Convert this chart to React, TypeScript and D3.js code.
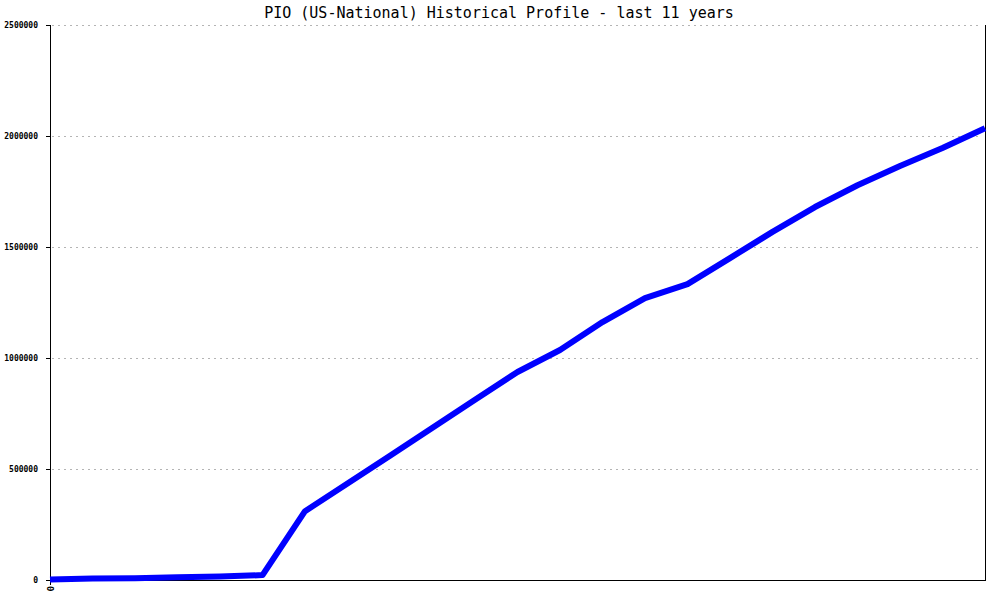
import React from "react";
import * as d3 from "d3";

const title = "PIO (US-National) Historical Profile - last 11 years";
const periods: number[] = d3.range(23);
const counts: number[] = [
  2000, 7000, 8000, 12000, 16000, 22000, 310000, 435000, 560000, 686000,
  812000, 937000, 1036000, 1162000, 1270000, 1333000, 1450000, 1568000,
  1680000, 1778000, 1865000, 1946000, 2035000,
];
const yTicks: number[] = [0, 500000, 1000000, 1500000, 2000000, 2500000];
const xTickLabels: string[] = ["0"];

const W = 1000;
const H = 600;
const left = 50;
const right = 985;
const top = 25;
const bottom = 580;

export default function App() {
  const x = d3.scaleLinear().domain([0, periods.length - 1]).range([left, right]);
  const y = d3.scaleLinear().domain([0, 2500000]).range([bottom, top]);
  const line = d3
    .line<number>()
    .x((_, i) => x(periods[i]))
    .y((d) => y(d));
  const mono = "'DejaVu Sans Mono', 'Liberation Mono', monospace";
  return (
    <svg
      width={W}
      height={H}
      style={{ position: "absolute", left: 0, top: 0, background: "#fff" }}
    >
      <rect x={0} y={0} width={W} height={H} fill="#fff" />
      <text
        x={499}
        y={18}
        textAnchor="middle"
        fontFamily={mono}
        fontSize={15}
        fill="#000"
      >
        {title}
      </text>
      {yTicks.slice(1).map((t) => (
        <line
          key={"g" + t}
          x1={left + 2}
          x2={right - 3}
          y1={Math.round(y(t)) + 0.5}
          y2={Math.round(y(t)) + 0.5}
          stroke="#b4b4b4"
          strokeDasharray="2,4"
          shapeRendering="crispEdges"
        />
      ))}
      {yTicks.map((t) => (
        <g key={"t" + t}>
          <line
            x1={left - 4}
            x2={left}
            y1={Math.round(y(t)) + 0.5}
            y2={Math.round(y(t)) + 0.5}
            stroke="#000"
            shapeRendering="crispEdges"
          />
          <text
            x={38}
            y={Math.round(y(t)) + 3}
            textAnchor="end"
            fontFamily={mono}
            fontSize={8}
            fontWeight="bold"
            fill="#000"
          >
            {t}
          </text>
        </g>
      ))}
      <line x1={left + 0.5} x2={left + 0.5} y1={top} y2={bottom + 5} stroke="#000" shapeRendering="crispEdges" />
      <line x1={right + 0.5} x2={right + 0.5} y1={top} y2={bottom} stroke="#000" shapeRendering="crispEdges" />
      <line x1={left - 4} x2={right + 1} y1={bottom + 0.5} y2={bottom + 0.5} stroke="#000" shapeRendering="crispEdges" />
      {xTickLabels.map((l, i) => (
        <text
          key={"x" + i}
          transform={`translate(${x(i) - 3},${bottom + 6}) rotate(90)`}
          fontFamily={mono}
          fontSize={9}
          fontWeight="bold"
          fill="#000"
        >
          {l}
        </text>
      ))}
      <path
        d={line(counts) || ""}
        fill="none"
        stroke="#0000ff"
        strokeWidth={6}
        strokeLinejoin="round"
      />
    </svg>
  );
}
